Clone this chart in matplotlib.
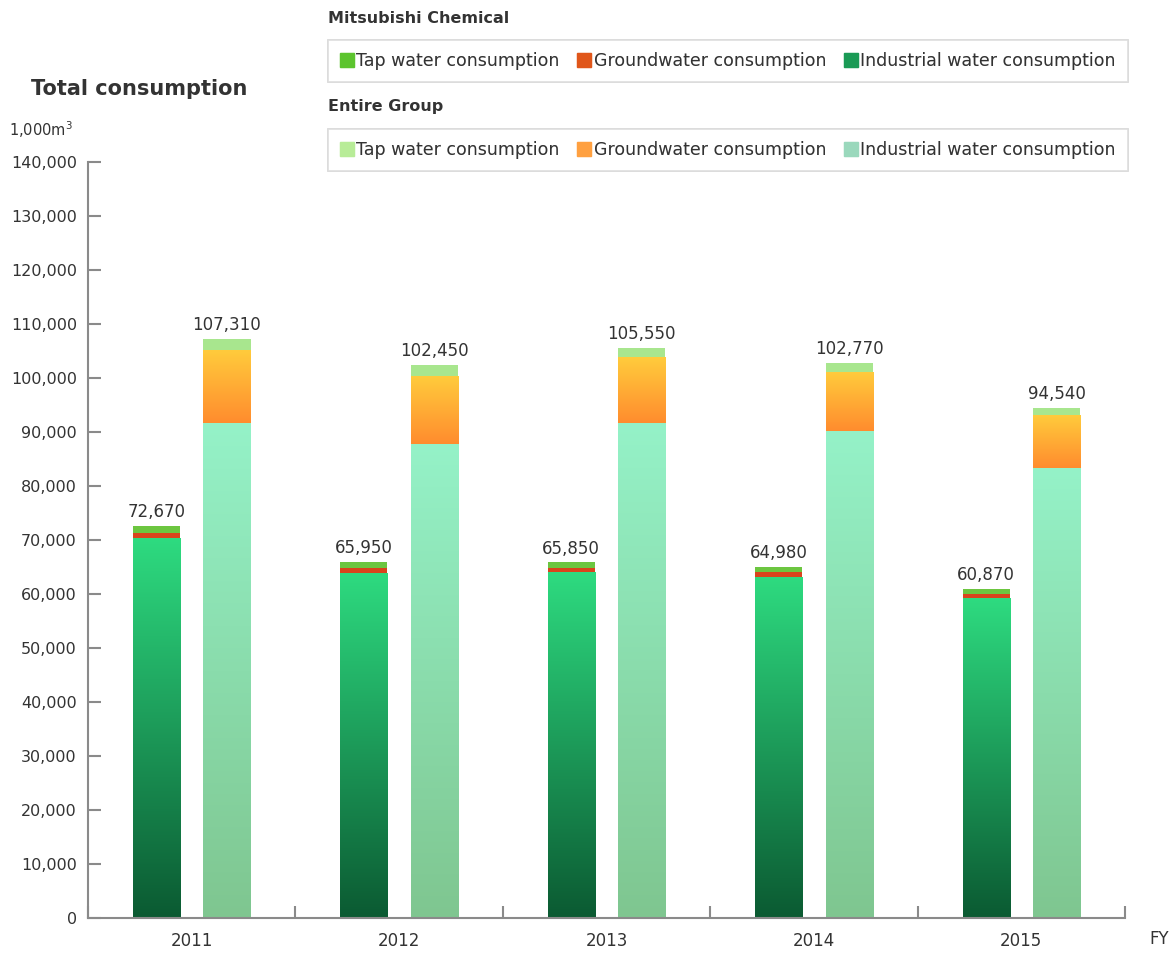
import matplotlib.pyplot as plt
import matplotlib.colors as mcolors
from matplotlib.patches import Patch
import numpy as np

# Data (1,000 m3)
years = ['2011', '2012', '2013', '2014', '2015']
mc_industrial = [70300, 63900, 64000, 63200, 59200]
mc_ground = [950, 950, 800, 850, 900]
mc_tap = [1420, 1100, 1050, 930, 770]
mc_total = [72670, 65950, 65850, 64980, 60870]

grp_industrial = [91600, 87800, 91700, 90200, 83300]
grp_ground = [13600, 12600, 12200, 11000, 9850]
grp_tap = [2110, 2050, 1650, 1570, 1390]
grp_total = [107310, 102450, 105550, 102770, 94540]

text_col = '#333333'
axis_col = '#8a8a8a'

fig = plt.figure(figsize=(11.75, 9.56), dpi=100)
ax = fig.add_axes([0.0749, 0.0397, 0.8826, 0.7908])

x = np.arange(len(years))
w = 0.227
off = 0.17


def gradient_fill(bars, top_col, bottom_col):
    cmap = mcolors.LinearSegmentedColormap.from_list('g', [bottom_col, top_col])
    grad = np.linspace(0, 1, 256).reshape(-1, 1)
    for b in bars:
        x0, y0 = b.get_x(), b.get_y()
        x1, y1 = x0 + b.get_width(), y0 + b.get_height()
        im = ax.imshow(grad, cmap=cmap, aspect='auto', origin='lower',
                       extent=[x0, x1, y0, y1], zorder=2)
        im.set_clip_path(b)
        b.set_facecolor('none')


# Mitsubishi Chemical bars
b1 = ax.bar(x - off, mc_industrial, w, color='#22c070', zorder=1)
gradient_fill(b1, '#2edb80', '#0b5a32')
ax.bar(x - off, mc_ground, w, bottom=mc_industrial, color='#d9441c', zorder=3)
mc_bottom = np.array(mc_industrial) + np.array(mc_ground)
ax.bar(x - off, mc_tap, w, bottom=mc_bottom, color='#6cc640', zorder=3)

# Entire Group bars
b2 = ax.bar(x + off, grp_industrial, w, color='#8fe0b8', zorder=1)
gradient_fill(b2, '#95f2c8', '#7fc690')
b3 = ax.bar(x + off, grp_ground, w, bottom=grp_industrial, color='#ffb040', zorder=1)
gradient_fill(b3, '#ffcc3c', '#ff8c2e')
grp_bottom = np.array(grp_industrial) + np.array(grp_ground)
ax.bar(x + off, grp_tap, w, bottom=grp_bottom, color='#a8e68e', zorder=3)

# Total labels
for i in range(len(years)):
    ax.text(x[i] - off, mc_total[i] + 900, f'{mc_total[i]:,}', ha='center',
            va='bottom', fontsize=12, color=text_col)
    ax.text(x[i] + off, grp_total[i] + 900, f'{grp_total[i]:,}', ha='center',
            va='bottom', fontsize=12, color=text_col)

ax.set_xlim(-0.5, 4.5)
ax.set_ylim(0, 140000)
ax.set_yticks(np.arange(0, 140001, 10000))
ax.set_yticklabels([f'{v:,}' for v in range(0, 140001, 10000)], fontsize=11.5,
                   color=text_col)
ax.set_xticks(x)
ax.set_xticklabels(years, fontsize=12, color=text_col)
ax.set_xticks(np.arange(-0.5, 5, 1), minor=True)
ax.tick_params(axis='x', which='major', length=0, pad=10)
ax.tick_params(axis='x', which='minor', direction='in', length=9, color=axis_col, width=1.5)
ax.tick_params(axis='y', direction='in', length=9, color=axis_col, width=1.5, pad=8)
for s in ['top', 'right']:
    ax.spines[s].set_visible(False)
for s in ['left', 'bottom']:
    ax.spines[s].set_color(axis_col)
    ax.spines[s].set_linewidth(1.5)

fig.text(0.995, 0.008, 'FY', ha='right', va='bottom', fontsize=12, color=text_col)
fig.text(0.026, 0.907, 'Total consumption', fontsize=15, fontweight='bold',
         color=text_col, va='center')
fig.text(0.008, 0.864, '1,000m$^3$', fontsize=10.5, color=text_col, va='center')

# Legends
labels = ['Tap water consumption', 'Groundwater consumption', 'Industrial water consumption']
mc_handles = [Patch(color='#5cc42e'), Patch(color='#e0561a'), Patch(color='#1a9a55')]
grp_handles = [Patch(color='#b8ec98'), Patch(color='#ffa040'), Patch(color='#9ad8bc')]

fig.text(0.279, 0.981, 'Mitsubishi Chemical', fontsize=11.5, fontweight='bold',
         color=text_col, va='center')
fig.text(0.279, 0.889, 'Entire Group', fontsize=11.5, fontweight='bold',
         color=text_col, va='center')

for handles, y0 in [(mc_handles, 0.914), (grp_handles, 0.821)]:
    leg = fig.legend(handles, labels, ncol=3, loc='lower left',
                     bbox_to_anchor=(0.279, y0, 0.681, 0.045), mode='expand',
                     fontsize=12.5, frameon=True, fancybox=False,
                     edgecolor='#d8d8d8', handlelength=0.8, handleheight=0.9,
                     handletextpad=0.15, columnspacing=0.1, borderaxespad=0,
                     borderpad=0.7, labelcolor=text_col)
    leg.get_frame().set_linewidth(1.2)
    fig.add_artist(leg)

fig.savefig('out.png', dpi=100)
